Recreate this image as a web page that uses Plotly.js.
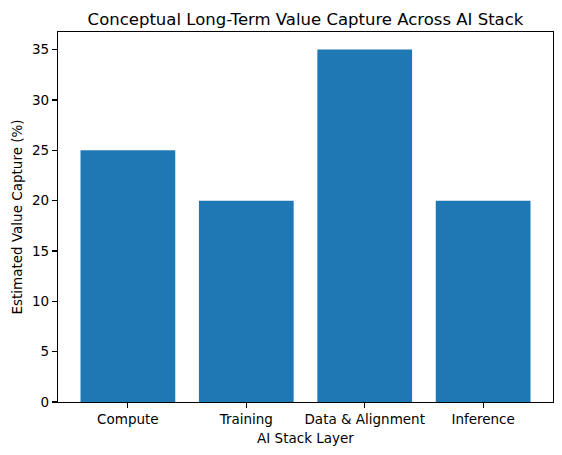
<!DOCTYPE html>
<html>
<head>
<meta charset="utf-8">
<script src="https://cdn.plot.ly/plotly-3.0.1.min.js"></script>
<style>
  html, body { margin: 0; padding: 0; background: #fff; }
  #chart { width: 562px; height: 455px; }
</style>
</head>
<body>
<div id="chart"></div>
<script>
var layers = ['Compute', 'Training', 'Data & Alignment', 'Inference'];
var valueCapture = [25, 20, 35, 20];
var yTicks = [0, 5, 10, 15, 20, 25, 30, 35];

var LOC = document.getElementById('chart');

var trace = {
    x: [0, 1, 2, 3],
    y: valueCapture,
    type: 'bar',
    width: 0.8,
    marker: { color: '#1f77b4', line: { width: 0 } },
    hoverinfo: 'skip'
};

var axisStyle = {
    showline: true,
    linecolor: '#000',
    linewidth: 1.1,
    mirror: true,
    ticks: 'outside',
    ticklen: 5,
    tickwidth: 1.1,
    tickcolor: '#000',
    showgrid: false,
    zeroline: false,
    tickfont: { family: 'DejaVu Sans', size: 13.5, color: '#000' }
};

var layout = {
    width: 562,
    height: 455,
    margin: { l: 58, r: 9, t: 32, b: 53 },
    paper_bgcolor: '#fff',
    plot_bgcolor: '#fff',
    showlegend: false,
    font: { family: 'DejaVu Sans', color: '#000' },
    title: {
        text: 'Conceptual Long-Term Value Capture Across AI Stack',
        font: { family: 'DejaVu Sans', size: 16.5, color: '#000' },
        xref: 'paper', x: 0.5, xanchor: 'center',
        yref: 'paper', y: 1, yanchor: 'bottom',
        pad: { b: 7 }
    },
    xaxis: Object.assign({}, axisStyle, {
        range: [-0.59, 3.59],
        tickmode: 'array',
        tickvals: [0, 1, 2, 3],
        ticktext: layers,
        title: { text: 'AI Stack Layer', font: { family: 'DejaVu Sans', size: 13.5, color: '#000' }, standoff: 7 }
    }),
    yaxis: Object.assign({}, axisStyle, {
        range: [0, 36.75],
        tickmode: 'array',
        tickvals: yTicks,
        ticktext: yTicks.map(String),
        title: { text: 'Estimated Value Capture (%)', font: { family: 'DejaVu Sans', size: 13.5, color: '#000' }, standoff: 6 }
    })
};

Plotly.newPlot(LOC, [trace], layout, { displayModeBar: false, staticPlot: true });
</script>
</body>
</html>
